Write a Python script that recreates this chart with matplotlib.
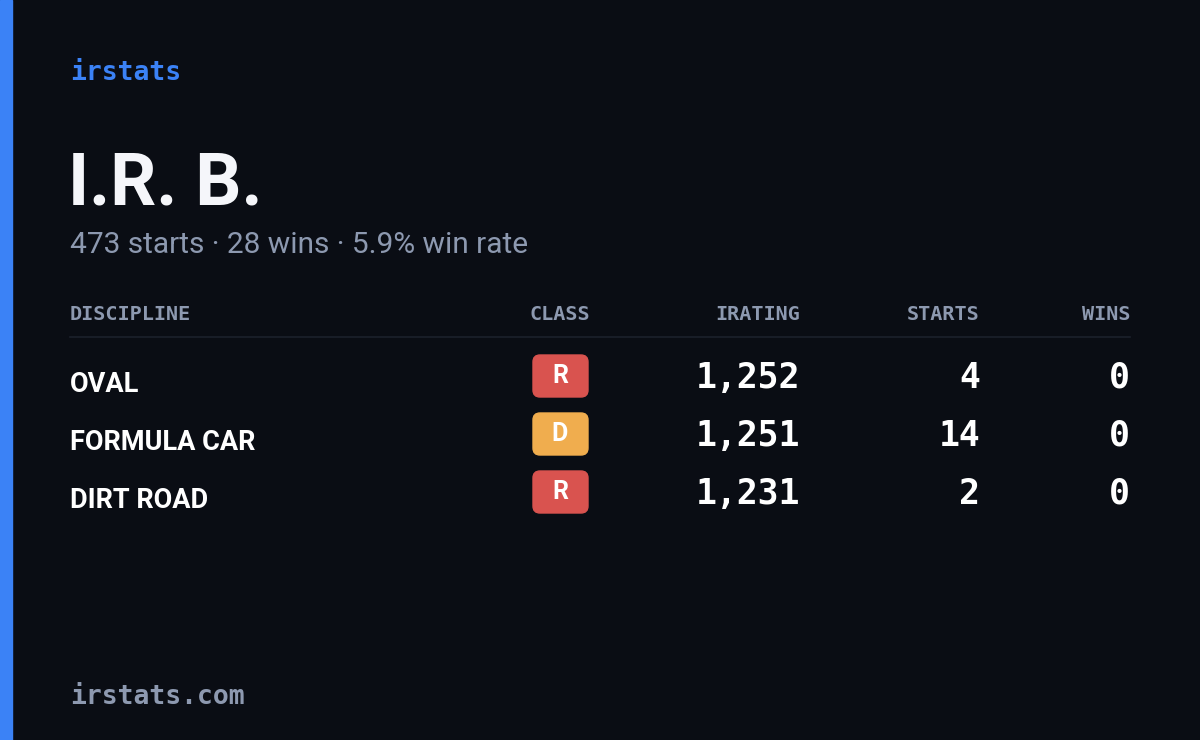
import matplotlib
matplotlib.use('Agg')
import matplotlib.pyplot as plt
from matplotlib.patches import Rectangle, FancyBboxPatch

# data
driver = "I.R. B."
total_starts = 473
total_wins = 28
win_rate = 5.9
disciplines = ["OVAL", "FORMULA CAR", "DIRT ROAD"]
classes = ["R", "D", "R"]
iratings = [1252, 1251, 1231]
starts = [4, 14, 2]
wins = [0, 0, 0]
headers = ["DISCIPLINE", "CLASS", "IRATING", "STARTS", "WINS"]

bg = '#0a0d14'
blue = '#3b82f6'
muted = '#8d99b0'
class_colors = {'R': '#d9534f', 'D': '#f0ad4e'}

fig = plt.figure(figsize=(12, 7.4), dpi=100, facecolor=bg)
ax = fig.add_axes([0, 0, 1, 1])
ax.set_xlim(0, 1200)
ax.set_ylim(740, 0)
ax.axis('off')
ax.set_facecolor(bg)

ax.add_patch(Rectangle((0, 0), 12, 740, color=blue))

mono = 'DejaVu Sans Mono'
ax.text(70, 73, "irstats", color=blue, fontsize=19, family=mono, weight='bold', va='center')
ax.text(68, 185, driver, color='#f5f6fa', fontsize=52, family='Roboto',
        weight='bold', va='center')
ax.text(70, 245, f"{total_starts} starts · {total_wins} wins · {win_rate}% win rate",
        color=muted, fontsize=21.5, family='Roboto', va='center')

# header
hx = [70, 560, 800, 980, 1130]
has = ['left', 'center', 'right', 'right', 'right']
for h, x, a in zip(headers, hx, has):
    ax.text(x, 314, h, color=muted, fontsize=14.5, family=mono, weight='bold',
            ha=a, va='center')
ax.plot([70, 1130], [337, 337], color='#1c212c', lw=1.2)

for i, (d, c, ir, s, w) in enumerate(zip(disciplines, classes, iratings, starts, wins)):
    y = 378 + 58 * i
    ax.text(70, y + 7, d, color='white', fontsize=19.5, family='Roboto',
            weight='bold', va='center')
    ax.add_patch(FancyBboxPatch((533, y - 23), 55, 42,
                                boxstyle='round,pad=0,rounding_size=7',
                                color=class_colors[c]))
    ax.text(560, y - 2, c, color='white', fontsize=18, family='Roboto',
            weight='bold', ha='center', va='center')
    ax.text(800, y, f"{ir:,}", color='white', fontsize=25, family=mono,
            weight='bold', ha='right', va='center')
    ax.text(980, y, str(s), color='white', fontsize=25, family=mono,
            weight='bold', ha='right', va='center')
    ax.text(1130, y, str(w), color='white', fontsize=25, family=mono,
            weight='bold', ha='right', va='center')

ax.text(70, 697, "irstats.com", color=muted, fontsize=19, family=mono, weight='bold', va='center')

fig.savefig('out.png', dpi=100, facecolor=bg)
